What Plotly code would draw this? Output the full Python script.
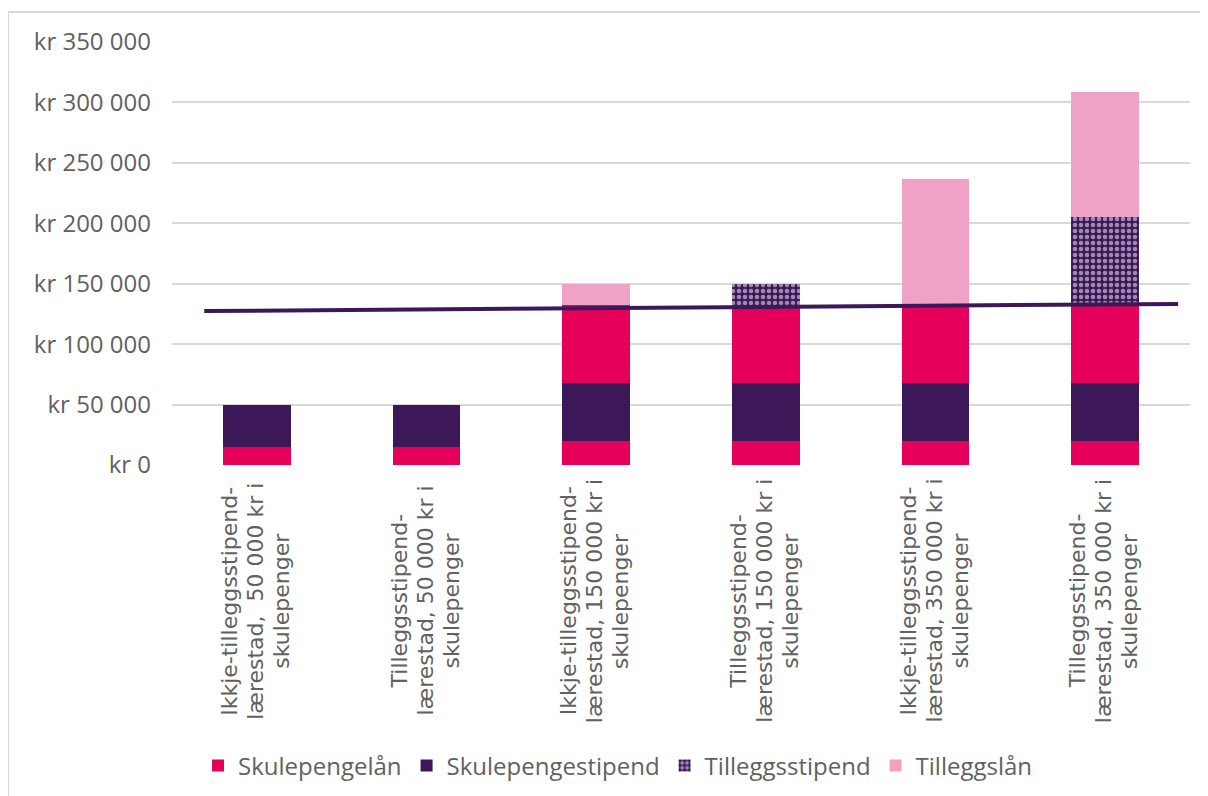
import plotly.graph_objects as go

# ---- data ----
category_lines = [
    ["Ikkje-tilleggsstipend-", "lærestad,  50 000 kr i", "skulepenger"],
    ["Tilleggsstipend-", "lærestad, 50 000 kr i", "skulepenger"],
    ["Ikkje-tilleggsstipend-", "lærestad, 150 000 kr i", "skulepenger"],
    ["Tilleggsstipend-", "lærestad, 150 000 kr i", "skulepenger"],
    ["Ikkje-tilleggsstipend-", "lærestad, 350 000 kr i", "skulepenger"],
    ["Tilleggsstipend-", "lærestad, 350 000 kr i", "skulepenger"],
]
categories = ["<br>".join(c) for c in category_lines]

skulepengelan_base = [15000, 15000, 20000, 20000, 20000, 20000]
skulepengestipend = [35000, 35000, 47500, 47500, 47500, 47500]
skulepengelan_top = [0, 0, 65000, 65000, 65000, 65000]
tilleggsstipend = [0, 0, 0, 17500, 0, 72500]
tilleggslan = [0, 0, 17500, 0, 104000, 104000]

line_x = [-0.31, 5.43]
line_y = [127400, 133300]

y_ticks = [0, 50000, 100000, 150000, 200000, 250000, 300000, 350000]
y_ticktext = ["kr " + f"{v:,}".replace(",", " ") for v in y_ticks]

PINK = "#E5005A"
PURPLE = "#3D1859"
LIGHT = "#F0A1C6"
GREY = "#616161"
FONT = "Open Sans"
CAT_FONT = "DejaVu Sans"

fig = go.Figure()
fig.add_trace(go.Bar(x=categories, y=skulepengelan_base, name="Skulepengelån",
                     marker=dict(color=PINK, line=dict(width=0)), legendgroup="a"))
fig.add_trace(go.Bar(x=categories, y=skulepengestipend, name="Skulepengestipend",
                     marker=dict(color=PURPLE, line=dict(width=0))))
fig.add_trace(go.Bar(x=categories, y=skulepengelan_top, name="Skulepengelån",
                     marker=dict(color=PINK, line=dict(width=0)), showlegend=False,
                     legendgroup="a"))
fig.add_trace(go.Bar(x=categories, y=tilleggsstipend, name="Tilleggsstipend",
                     marker=dict(color=PURPLE, line=dict(width=0),
                                 pattern=dict(shape=".", fgcolor="white", bgcolor=PURPLE,
                                              size=6, solidity=0.45))))
fig.add_trace(go.Bar(x=categories, y=tilleggslan, name="Tilleggslån",
                     marker=dict(color=LIGHT, line=dict(width=0))))
fig.add_trace(go.Scatter(x=line_x, y=line_y, mode="lines", xaxis="x2",
                         line=dict(color=PURPLE, width=4), showlegend=False))

# rotated, centre-aligned category labels (one annotation per line)
for cat, lines in zip(categories, category_lines):
    n = len(lines)
    for i, ln in enumerate(lines):
        fig.add_annotation(x=cat, xref="x", y=-0.3215, yref="paper", yanchor="middle",
                           xanchor="center", xshift=(i - (n - 1) / 2) * 26 - 1,
                           text=ln, textangle=-90, showarrow=False,
                           font=dict(family=CAT_FONT, size=22, color=GREY))

# outer chart frame
fig.add_shape(type="rect", xref="paper", yref="paper", x0=-0.161, x1=1.1, y0=-0.8, y1=1.071,
              line=dict(color="#D9D9D9", width=2), fillcolor="rgba(0,0,0,0)", layer="below")

fig.update_layout(
    barmode="stack",
    bargap=0.6,
    width=1208, height=796,
    autosize=False,
    margin=dict(l=164, r=26, t=34, b=339, autoexpand=False),
    paper_bgcolor="white", plot_bgcolor="white",
    font=dict(family=FONT, color=GREY),
    xaxis=dict(range=[-0.5, 5.5], showticklabels=False, showgrid=False, zeroline=False,
               showline=False, ticks=""),
    xaxis2=dict(range=[-0.5, 5.5], overlaying="x", visible=False),
    yaxis=dict(range=[0, 350000], tickvals=y_ticks, ticktext=y_ticktext,
               showgrid=True, gridcolor="#D9D9D9", gridwidth=2, zeroline=False,
               tickfont=dict(family=FONT, size=24, color=GREY), ticklabelstandoff=20),
    legend=dict(orientation="h", xref="container", yref="container", x=0.505, xanchor="center",
                y=0.048, yanchor="middle", font=dict(family=FONT, size=24, color=GREY),
                traceorder="normal", itemwidth=30),
    showlegend=True,
)

fig.write_html("out.html")
